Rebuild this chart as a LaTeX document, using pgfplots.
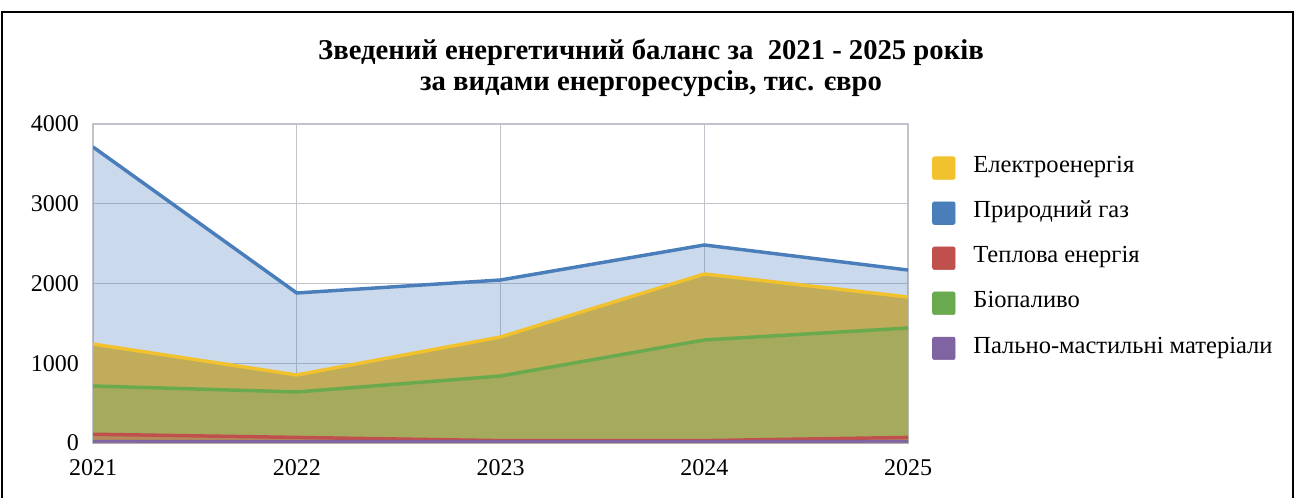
\documentclass[border=0pt]{standalone}
\usepackage{pgfplots}
\pgfplotsset{compat=1.18}
\usepackage{fontspec}
\setmainfont{Liberation Serif}

\definecolor{cblue}{HTML}{4A7EBB}
\definecolor{cyellow}{HTML}{F2C12E}
\definecolor{cred}{HTML}{C0504D}
\definecolor{cgreen}{HTML}{6AAA4E}
\definecolor{cpurple}{HTML}{8064A2}
\definecolor{fblue}{HTML}{4F81BD}
\definecolor{ftan}{HTML}{C0AC5B}
\definecolor{fgreen}{HTML}{A6AA5C}
\definecolor{fred}{HTML}{B58A58}
\definecolor{fpurple}{HTML}{9A84B0}
\definecolor{gridc}{HTML}{C0C4CA}

\begin{document}
\begin{tikzpicture}[x=0.75pt,y=0.75pt]
\useasboundingbox (0,0) rectangle (1300,497);
% frame (bottom edge is cut off in the reference)
\draw[line width=1.5pt] (2,-5) -- (2,485) -- (1293,485) -- (1293,-5);
\node[align=center, font=\fontsize{21.5}{23.5}\selectfont\bfseries] at (651,429)
  {Зведений енергетичний баланс за\ \ 2021 - 2025 років\\за видами енергоресурсів, тис. євро};
\coordinate (O) at (93,54);

\begin{axis}[
  at={(O)}, anchor=south west,
  scale only axis, width=611.25pt, height=239.25pt,
  xmin=2021, xmax=2025, ymin=0, ymax=4000,
  xtick={2021,2022,2023,2024,2025},
  ytick={0,1000,2000,3000,4000},
  /pgf/number format/assume math mode=true,
  /pgf/number format/1000 sep={},
  tick label style={font=\fontsize{18}{21}\selectfont},
  major tick length=0pt,
  xticklabel style={yshift=-9pt},
  yticklabel style={xshift=-7pt},
  grid=major,
  grid style={gridc, line width=1pt},
  axis line style={gridc, line width=1pt},
  legend image code/.code={\fill[#1, rounded corners=1.5pt] (0pt,-8.5pt) rectangle (17pt,8.5pt);},
  legend style={at={(rel axis cs:1.0294,0.899)}, anchor=north west, draw=none, fill=none,
    inner sep=0pt, font=\fontsize{18.4}{21}\selectfont, row sep=16.4pt,
    nodes={inner sep=0pt, text height=11pt, text depth=4pt}},
  legend cell align=left,
  /tikz/every odd column/.style={column sep=13.5pt},
]
% Природний газ
\addplot[fill=fblue, fill opacity=0.3, draw=none, forget plot] coordinates {
(2021,3712)(2022,1881)(2023,2044)(2024,2483)(2025,2169)} \closedcycle;
\addplot[cblue, line width=2.6pt, forget plot] coordinates {
(2021,3712)(2022,1881)(2023,2044)(2024,2483)(2025,2169)};
% Електроенергія
\addplot[fill=ftan, draw=none, forget plot] coordinates {
(2021,1241)(2022,853)(2023,1329)(2024,2119)(2025,1831)} \closedcycle;
\addplot[cyellow, line width=2.6pt, forget plot] coordinates {
(2021,1241)(2022,853)(2023,1329)(2024,2119)(2025,1831)};
% Біопаливо
\addplot[fill=fgreen, draw=none, forget plot] coordinates {
(2021,715)(2022,640)(2023,840)(2024,1292)(2025,1442)} \closedcycle;
\addplot[cgreen, line width=2.6pt, forget plot] coordinates {
(2021,715)(2022,640)(2023,840)(2024,1292)(2025,1442)};
% Теплова енергія
\addplot[fill=fred, draw=none, forget plot] coordinates {
(2021,110)(2022,70)(2023,30)(2024,30)(2025,70)} \closedcycle;
\addplot[cred, line width=2.6pt, forget plot] coordinates {
(2021,110)(2022,70)(2023,30)(2024,30)(2025,70)};
% Пально-мастильні матеріали
\addplot[fill=fpurple, draw=none, forget plot] coordinates {
(2021,22)(2022,20)(2023,20)(2024,20)(2025,22)} \closedcycle;
\addplot[cpurple, line width=2.2pt, forget plot] coordinates {
(2021,22)(2022,20)(2023,20)(2024,20)(2025,22)};

\addlegendimage{cyellow}\addlegendentry{Електроенергія}
\addlegendimage{cblue}\addlegendentry{Природний газ}
\addlegendimage{cred}\addlegendentry{Теплова енергія}
\addlegendimage{cgreen}\addlegendentry{Біопаливо}
\addlegendimage{cpurple}\addlegendentry{Пально-мастильні матеріали}
\end{axis}
\end{tikzpicture}
\end{document}
